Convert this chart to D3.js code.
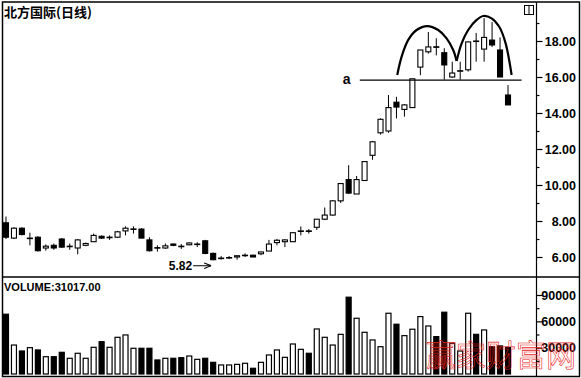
<!DOCTYPE html>
<html>
<head>
<meta charset="utf-8">
<script src="https://cdn.jsdelivr.net/npm/d3@7"></script>
<style>
  body { margin: 0; background: #fff; }
  svg { display: block; }
</style>
</head>
<body>
<script>
// daily candles, oldest first
const opens = [7.9, 7.05, 7.6, 7.03, 7.1, 6.5, 6.65, 7.0, 6.58, 6.5, 6.65, 6.85, 7.15, 7.08, 7.1, 7.45,
  7.55, 7.55, 6.95, 6.52, 6.5, 6.72, 6.6, 6.68, 6.7, 6.9, 6.2, 5.92, 5.95, 6.0, 6.08, 6.1,
  6.18, 6.33, 6.8, 6.85, 6.85, 7.42, 7.45, 7.65, 8.1, 8.33, 9.12, 10.3, 9.5, 10.25, 11.65, 12.9,
  13.0, 14.6, 14.2, 14.3, 16.55, 17.4, 17.68, 17.35, 16.0, 16.32, 16.4, 18.0, 17.55, 18.05, 17.5, 15.0];
const highs = [8.25, 7.65, 7.65, 7.35, 7.15, 6.7, 6.75, 7.05, 6.75, 7.0, 6.8, 7.3, 7.2, 7.2, 7.45, 7.7,
  7.7, 7.6, 7.1, 6.65, 6.75, 6.75, 6.72, 6.82, 6.82, 6.95, 6.25, 6.05, 6.05, 6.08, 6.2, 6.12,
  6.3, 6.95, 7.0, 6.98, 7.35, 7.7, 7.55, 8.1, 8.75, 9.15, 10.1, 11.1, 10.5, 11.3, 12.45, 13.7,
  15.0, 14.9, 14.5, 15.9, 17.5, 18.5, 18.15, 17.6, 16.85, 16.85, 17.97, 18.45, 19.27, 19.05, 18.2, 15.55];
const lows = [7.0, 7.0, 7.2, 6.65, 6.3, 6.35, 6.4, 6.5, 6.4, 6.15, 6.6, 6.85, 7.0, 6.95, 7.05, 7.2,
  7.3, 7.05, 6.3, 6.3, 6.45, 6.6, 6.45, 6.65, 6.55, 6.15, 5.82, 5.85, 5.88, 5.85, 6.0, 6.0,
  6.1, 6.33, 6.65, 6.55, 6.85, 7.2, 7.3, 7.5, 8.05, 8.3, 9.0, 9.5, 9.5, 10.25, 11.4, 12.8,
  12.9, 13.7, 13.8, 14.28, 16.1, 17.3, 17.2, 15.85, 15.95, 15.85, 16.3, 16.85, 16.85, 17.67, 16.0, 14.45];
const closes = [7.1, 7.6, 7.25, 7.05, 6.35, 6.6, 6.5, 6.55, 6.6, 6.95, 6.75, 7.2, 7.05, 7.1, 7.4, 7.6,
  7.56, 7.05, 6.35, 6.5, 6.62, 6.65, 6.58, 6.78, 6.72, 6.2, 5.85, 5.94, 5.97, 6.07, 6.1, 6.0,
  6.28, 6.72, 6.93, 6.95, 7.35, 7.45, 7.43, 8.1, 8.33, 9.12, 10.08, 9.55, 10.3, 11.3, 12.4, 13.65,
  14.3, 14.33, 14.45, 15.9, 17.5, 17.67, 17.65, 16.67, 16.22, 16.35, 17.95, 17.98, 18.2, 17.78, 16.0, 14.45];
const volumes = [68100, 33000, 26200, 30000, 27400, 19700, 19700, 24700, 17900, 23600, 17900, 30400,
  36800, 30400, 41800, 44500, 29300, 29300, 29300, 16000, 17900, 17900, 18600, 20500, 16700, 17900,
  13300, 10300, 10300, 11000, 12200, 6500, 13300, 21700, 27400, 19000, 34200, 28100, 23600, 51300,
  41800, 33000, 45200, 87500, 63500, 47500, 38800, 31100, 69200, 56700, 43700, 51000, 65400, 54700,
  42600, 70400, 35000, 26200, 69200, 45200, 50200, 31100, 32000, 30400];
const volumeReading = 31017;

const priceTicks = [6, 8, 10, 12, 14, 16, 18];
const priceMinor = [7, 9, 11, 13, 15, 17, 19];
const volTicks = [30000, 60000, 90000];
const volMinor = [15000, 45000, 75000];

// hand-drawn pattern: neckline "a" and the two tops, in (bar index, price)
const neckline = { from: 44.4, to: 64.7, price: 15.83 };
const leftTop = [[49.1, 16.11], [49.65, 17.13], [50.48, 18.06], [51.53, 18.61], [52.86, 18.83],
  [54.24, 18.61], [55.29, 18.15], [56.12, 17.5], [56.55, 16.89]];
const rightTop = [[56.55, 16.89], [57.18, 17.87], [58.0, 18.61], [59.06, 19.17], [59.89, 19.39],
  [60.94, 19.26], [61.9, 18.79], [62.7, 17.87], [63.45, 16.11]];

const width = 581, height = 378;
const plotRight = 536.5, splitY = 277;

const svg = d3.select('body').append('svg')
  .attr('width', width)
  .attr('height', height);

svg.append('rect').attr('width', width).attr('height', height).attr('fill', '#fff');

const bars = opens.map((o, i) => ({
  i, open: o, high: highs[i], low: lows[i], close: closes[i], vol: volumes[i],
  down: closes[i] < o
}));

const x = d3.scaleBand().domain(d3.range(bars.length)).range([2, 512]);
const cx = i => x(i) + x.bandwidth() / 2;
const xi = d3.scaleLinear().domain([0, 1]).range([cx(0), cx(1)]); // fractional index
const y = d3.scaleLinear().domain([6, 18]).range([257, 41]);
const yv = d3.scaleLinear().domain([0, 90000]).range([374, 295]);

const bodyW = 5;

// frame
svg.append('rect')
  .attr('x', 2.5).attr('y', 2).attr('width', 577).attr('height', 374.5)
  .attr('fill', 'none').attr('stroke', '#000').attr('stroke-width', 1.5);
svg.append('line')
  .attr('x1', 2).attr('x2', 580).attr('y1', splitY).attr('y2', splitY)
  .attr('stroke', '#000').attr('stroke-width', 1.5);
svg.append('line')
  .attr('x1', plotRight).attr('x2', plotRight).attr('y1', 2).attr('y2', 377)
  .attr('stroke', '#000').attr('stroke-width', 1.2);

// candles
const candle = svg.append('g').selectAll('g')
  .data(bars)
  .enter().append('g');

candle.append('line')
  .attr('x1', d => cx(d.i)).attr('x2', d => cx(d.i))
  .attr('y1', d => y(d.high)).attr('y2', d => y(d.low))
  .attr('stroke', '#000').attr('stroke-width', 1);

candle.append('rect')
  .attr('x', d => cx(d.i) - bodyW / 2)
  .attr('y', d => y(Math.max(d.open, d.close)))
  .attr('width', bodyW)
  .attr('height', d => Math.max(0.5, Math.abs(y(d.open) - y(d.close))))
  .attr('fill', d => d.down ? '#000' : '#fff')
  .attr('stroke', '#000').attr('stroke-width', 1.1);

// volume
svg.append('g').selectAll('rect')
  .data(bars)
  .enter().append('rect')
  .attr('x', d => cx(d.i) - bodyW / 2)
  .attr('y', d => yv(d.vol))
  .attr('width', bodyW)
  .attr('height', d => yv(0) - yv(d.vol))
  .attr('fill', d => d.down ? '#000' : '#fff')
  .attr('stroke', '#000').attr('stroke-width', 1.2);

// axes
function styleAxis(g) {
  g.select('.domain').remove();
  g.selectAll('line').attr('stroke', '#000').attr('stroke-width', 1.2);
  g.selectAll('text')
    .attr('text-anchor', 'end')
    .attr('x', 576 - plotRight)
    .attr('font-family', '"Liberation Sans", Arial, sans-serif')
    .attr('font-weight', 'bold')
    .attr('font-size', 12.5)
    .attr('fill', '#000');
}

svg.append('g')
  .attr('transform', `translate(${plotRight},0)`)
  .call(d3.axisRight(y).tickValues(priceTicks).tickSize(6).tickFormat(d3.format('.2f')))
  .call(styleAxis);
svg.append('g')
  .attr('transform', `translate(${plotRight},0)`)
  .call(d3.axisRight(y).tickValues(priceMinor).tickSize(3).tickFormat(''))
  .call(styleAxis);
svg.append('g')
  .attr('transform', `translate(${plotRight},0)`)
  .call(d3.axisRight(yv).tickValues(volTicks).tickSize(6).tickFormat(d3.format('d')))
  .call(styleAxis);
svg.append('g')
  .attr('transform', `translate(${plotRight},0)`)
  .call(d3.axisRight(yv).tickValues(volMinor).tickSize(3).tickFormat(''))
  .call(styleAxis);

// pattern annotation
svg.append('line')
  .attr('x1', xi(neckline.from)).attr('x2', xi(neckline.to))
  .attr('y1', y(neckline.price)).attr('y2', y(neckline.price))
  .attr('stroke', '#000').attr('stroke-width', 1.2);

svg.append('text')
  .attr('x', xi(neckline.from) - 17).attr('y', y(neckline.price) + 4)
  .attr('font-family', '"Liberation Sans", Arial, sans-serif')
  .attr('font-weight', 'bold').attr('font-size', 14)
  .text('a');

const arc = d3.line()
  .x(d => xi(d[0]))
  .y(d => y(d[1]))
  .curve(d3.curveCatmullRom);

[leftTop, rightTop].forEach(pts => {
  svg.append('path')
    .attr('d', arc(pts))
    .attr('fill', 'none')
    .attr('stroke', '#000').attr('stroke-width', 2.2);
});

// low marker
const lowIdx = d3.minIndex(lows);
const arrowY = y(lows[lowIdx]) + 5.5;
svg.append('defs').append('marker')
  .attr('id', 'arr').attr('viewBox', '0 0 10 10')
  .attr('refX', 10).attr('refY', 5)
  .attr('markerWidth', 7).attr('markerHeight', 7)
  .attr('orient', 'auto')
  .append('path').attr('d', 'M0,1 L10,5 L0,9').attr('fill', 'none').attr('stroke', '#000').attr('stroke-width', 1.5);
svg.append('line')
  .attr('x1', cx(lowIdx) - 20).attr('x2', cx(lowIdx) - 2)
  .attr('y1', arrowY).attr('y2', arrowY)
  .attr('stroke', '#000').attr('stroke-width', 1)
  .attr('marker-end', 'url(#arr)');
svg.append('text')
  .attr('x', cx(lowIdx) - 21).attr('y', arrowY + 4)
  .attr('text-anchor', 'end')
  .attr('font-family', '"Liberation Sans", Arial, sans-serif')
  .attr('font-weight', 'bold').attr('font-size', 12)
  .text(lows[lowIdx].toFixed(2));

// labels
svg.append('text')
  .attr('x', 4).attr('y', 17)
  .attr('font-family', '"Noto Sans CJK SC", sans-serif')
  .attr('font-weight', 'bold').attr('font-size', 13)
  .text('北方国际(日线)');

svg.append('text')
  .attr('x', 4).attr('y', 291)
  .attr('font-family', '"Liberation Sans", Arial, sans-serif')
  .attr('font-weight', 'bold').attr('font-size', 11)
  .text('VOLUME:' + volumeReading.toFixed(2));

// little window icon top right
svg.append('rect')
  .attr('x', 524.5).attr('y', 5.5).attr('width', 9).attr('height', 9)
  .attr('fill', '#fff').attr('stroke', '#000').attr('stroke-width', 1);
svg.append('line')
  .attr('x1', 529).attr('x2', 529).attr('y1', 5.5).attr('y2', 14.5)
  .attr('stroke', '#000').attr('stroke-width', 1);

// watermark
svg.append('text')
  .attr('x', 426).attr('y', 366)
  .attr('font-family', '"Noto Sans CJK SC", sans-serif')
  .attr('font-size', 30)
  .attr('fill', 'none')
  .attr('stroke', '#e8231c').attr('stroke-width', 0.6)
  .text('赢家财富网');
</script>
</body>
</html>
